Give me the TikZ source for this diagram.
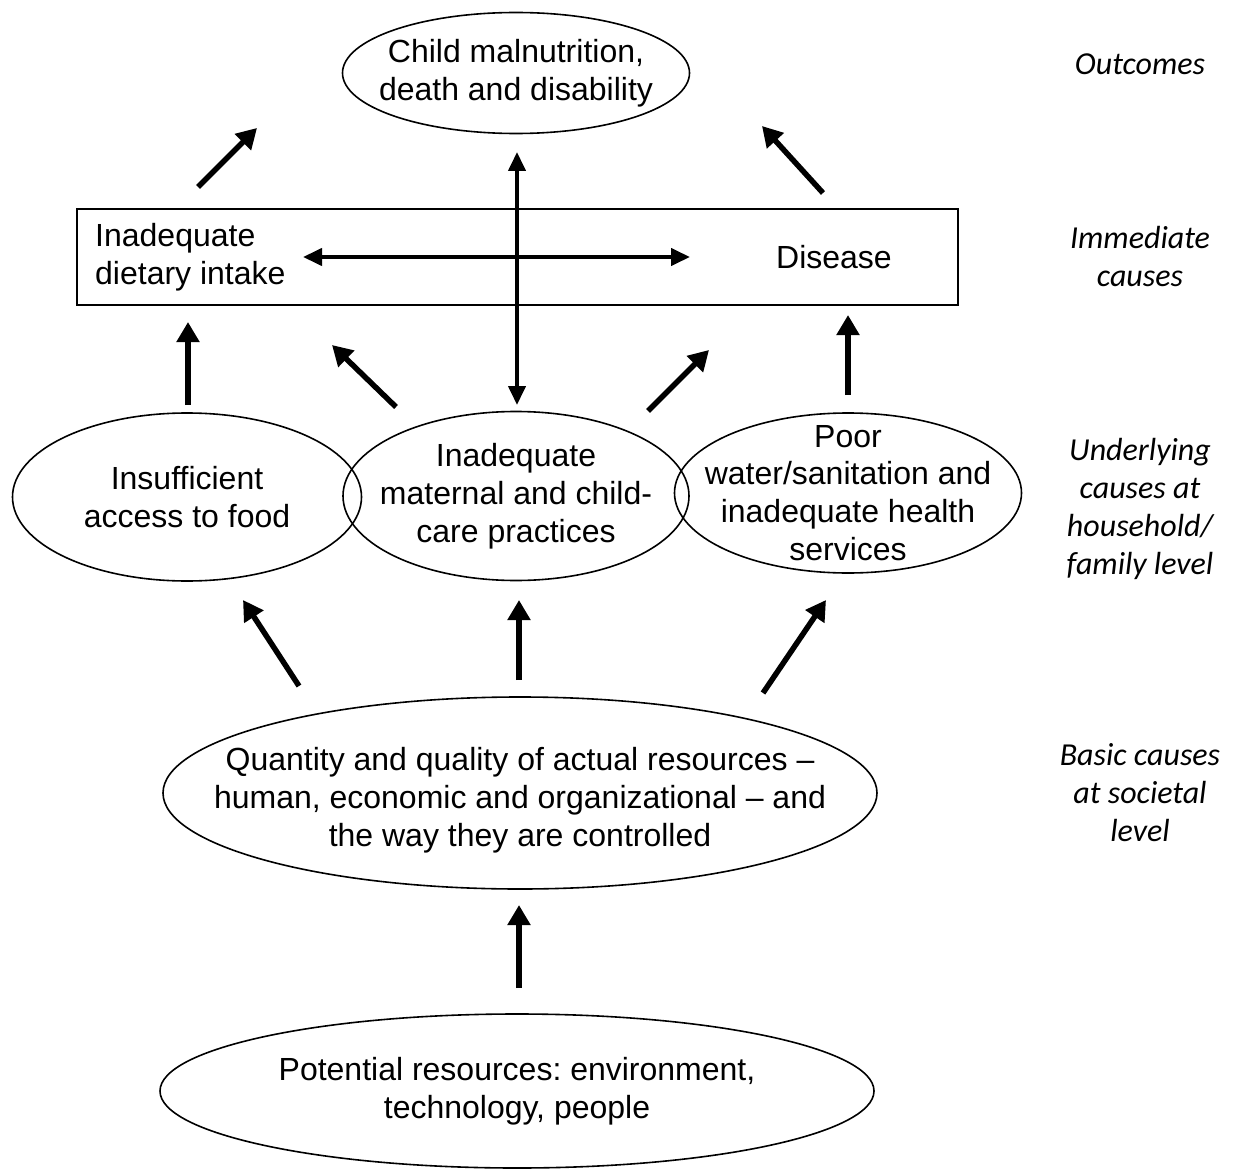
\documentclass[tikz,border=0pt]{standalone}
\usepackage{fontspec}
\setmainfont{Liberation Sans}
\newfontfamily\levelfont{Carlito}
\usetikzlibrary{shapes,arrows.meta}
\frenchspacing
\newcommand{\mainsize}{\fontsize{32}{37.8}\selectfont}
\newcommand{\levelsize}{\fontsize{32}{38}\selectfont\levelfont\itshape}
\tikzset{
	cause/.style    = {draw, line width=1.6pt, ellipse, inner sep=0pt},
	frame/.style    = {draw, line width=1.6pt, rectangle, inner sep=0pt,
		minimum width=881pt, minimum height=96pt},
	label/.style    = {font=\mainsize, align=center, inner sep=0pt},
	level/.style    = {font=\levelsize, align=center},
	arr/.style      = {line width=5.5pt, -{Triangle[length=20pt,width=22pt]}},
	darr/.style     = {line width=4pt, {Triangle[length=19pt,width=17pt]}-{Triangle[length=19pt,width=17pt]}}
}

\begin{document}
\begin{tikzpicture}[x=1pt, y=-1pt]
	\useasboundingbox (0,0) rectangle (1237,1169);

	\draw
	node at (516,73) [cause, minimum width=347pt, minimum height=121pt] (outcome) {}
	node at (517.5,257) [frame] (immediate) {}
	node at (187,497) [cause, minimum width=349pt, minimum height=168pt] (food) {}
	node at (516,496) [cause, minimum width=346pt, minimum height=169pt] (care) {}
	node at (848,493) [cause, minimum width=347pt, minimum height=160pt] (water) {}
	node at (520,793) [cause, minimum width=714pt, minimum height=192pt] (basic) {}
	node at (517,1091) [cause, minimum width=714pt, minimum height=154pt] (potential) {};

	% texts
	\draw
	node at (outcome) [label] (outcome-t) {Child malnutrition,\\death and disability}
	node at (95,257) [label, anchor=west, align=left] (diet) {Inadequate\\dietary intake}
	node at (834,257) [label] (disease) {Disease}
	node at (food) [label] (food-t) {Insufficient\\access to food}
	node at (care) [label] (care-t) {Inadequate\\maternal and child-\\care practices}
	node at (water) [label] (water-t) {Poor\\water/sanitation and\\inadequate health\\services}
	node at (520,800) [label] (basic-t) {Quantity and quality of actual resources --\\human, economic and organizational -- and\\the way they are controlled}
	node at (potential) [label] (potential-t) {Potential resources: environment,\\technology, people};

	% level names on the right
	\draw
	node at (1140,64) [level] (lvl1) {Outcomes}
	node at (1140,257) [level] (lvl2) {Immediate\\causes}
	node at (1140,509) [level] (lvl3) {Underlying\\causes at\\household/\\family level}
	node at (1140,793) [level] (lvl4) {Basic causes\\at societal\\level};

	% free arrow ends
	\coordinate (o1) at (198,187);  \coordinate (o2) at (257,128);
	\coordinate (o3) at (823,193);  \coordinate (o4) at (762,126);
	\coordinate (v1) at (517,152);  \coordinate (v2) at (517,405);
	\coordinate (h1) at (303,257);  \coordinate (h2) at (690,257);
	\coordinate (u1) at (188,405);  \coordinate (u2) at (188,322);
	\coordinate (u3) at (396,407);  \coordinate (u4) at (332,345);
	\coordinate (u5) at (648,411);  \coordinate (u6) at (709,350);
	\coordinate (u7) at (848,395);  \coordinate (u8) at (848,315);
	\coordinate (b1) at (299,686);  \coordinate (b2) at (243,600);
	\coordinate (b3) at (519,680);  \coordinate (b4) at (519,600);
	\coordinate (b5) at (763,693);  \coordinate (b6) at (826,600);
	\coordinate (p1) at (519,988);  \coordinate (p2) at (519,905);

	\draw[arr](o1)--(o2);
	\draw[arr](o3)--(o4);
	\draw[darr](v1)--(v2);
	\draw[darr](h1)--(h2);
	\draw[arr](u1)--(u2);
	\draw[arr](u3)--(u4);
	\draw[arr](u5)--(u6);
	\draw[arr](u7)--(u8);
	\draw[arr](b1)--(b2);
	\draw[arr](b3)--(b4);
	\draw[arr](b5)--(b6);
	\draw[arr](p1)--(p2);

\end{tikzpicture}
\end{document}
